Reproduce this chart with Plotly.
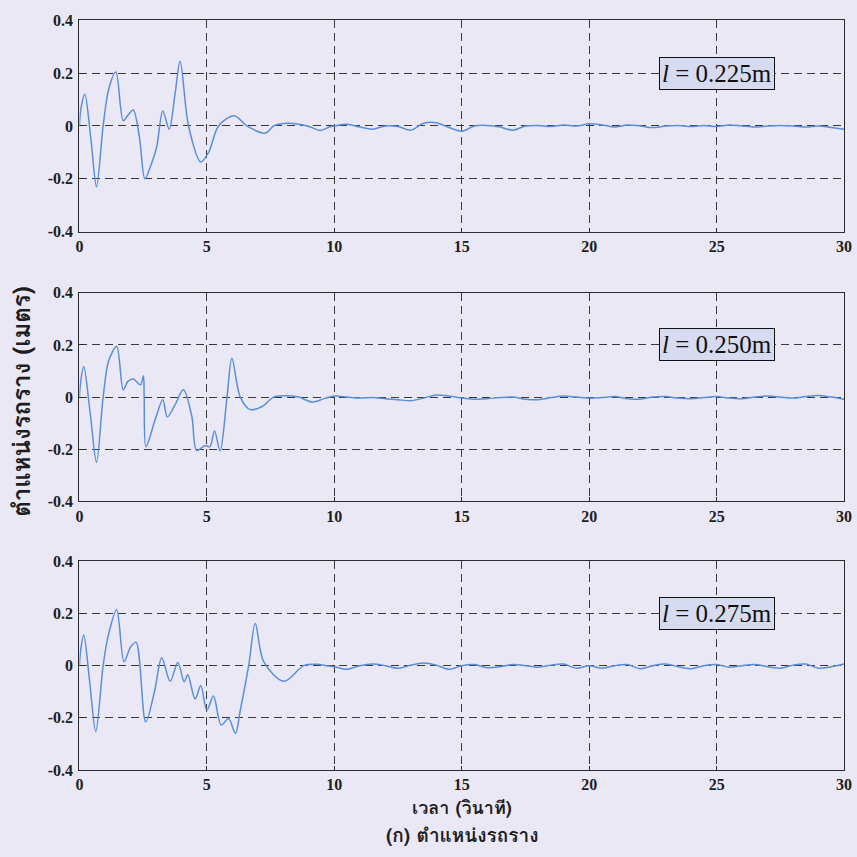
import plotly.graph_objects as go

# Pendulum lengths for the three runs
lengths = ["0.225", "0.250", "0.275"]

# Transient part (0-10 s): time [s] and cart position [m] at turning points
t_a = [0.0, 0.05, 0.21, 0.45, 0.67, 0.93, 1.15, 1.43, 1.72, 1.9, 2.11, 2.35, 2.57, 2.8, 3.03, 3.27, 3.52, 3.75, 3.95,
       4.28, 4.76, 5.07, 5.46, 6.08, 6.57, 7.3, 7.62, 8.2, 8.94, 9.46, 9.8]
y_a = [0.0, 0.06, 0.12, -0.05, -0.23, 0.0, 0.14, 0.204, 0.02, 0.04, 0.06, -0.04, -0.2, -0.15, -0.08, 0.057, -0.012, 0.12, 0.245,
       0.0, -0.136, -0.1, 0.0, 0.039, 0.0, -0.027, 0.0, 0.01, 0.0, -0.017, -0.004]

t_b = [0.0, 0.05, 0.17, 0.42, 0.67, 0.93, 1.15, 1.46, 1.72, 1.9, 2.11, 2.4, 2.51, 2.54, 2.61, 2.97, 3.27, 3.45, 3.75, 4.08,
       4.41, 4.6, 4.93, 5.12, 5.3, 5.52, 5.79, 5.98, 6.31, 6.7, 7.17, 7.62, 8.0, 8.6, 9.13, 9.6]
y_b = [0.0, 0.06, 0.117, -0.06, -0.25, 0.0, 0.14, 0.194, 0.028, 0.06, 0.069, 0.047, 0.082, 0.0, -0.19, -0.087, -0.01, -0.076, -0.03, 0.028,
       -0.074, -0.205, -0.186, -0.19, -0.13, -0.206, 0.0, 0.149, 0.0, -0.048, -0.036, 0.0, 0.005, 0.0, -0.019, -0.006]

t_c = [0.0, 0.05, 0.17, 0.4, 0.64, 0.93, 1.13, 1.46, 1.75, 2.0, 2.22, 2.6, 2.95, 3.23, 3.56, 3.86, 4.11, 4.25, 4.54, 4.76,
       5.0, 5.26, 5.56, 5.85, 6.12, 6.31, 6.64, 6.9, 7.23, 8.02, 8.8, 9.33, 9.7]
y_c = [0.0, 0.06, 0.117, -0.06, -0.253, 0.0, 0.115, 0.214, 0.015, 0.07, 0.09, -0.216, -0.097, 0.03, -0.06, 0.012, -0.062, -0.035, -0.128, -0.076,
       -0.172, -0.116, -0.228, -0.203, -0.26, -0.172, 0.0, 0.162, 0.015, -0.06, 0.0, 0.005, 0.0]

# Residual motion (10-30 s, every 0.5 s)
t_tail = [10 + 0.5 * k for k in range(41)]
tail_a = [0.0, 0.006, -0.004, -0.012, 0.0, -0.002, -0.016, 0.01, 0.012, -0.006, -0.02, 0.0, 0.002, -0.004, -0.016, 0.0,
          0.002, -0.002, 0.004, 0.0, 0.008, 0.004, -0.004, 0.004, 0.0, -0.006, 0.0, 0.002, -0.002, 0.002, -0.002, 0.004,
          0.0, -0.004, 0.0, 0.002, 0.0, -0.004, 0.0, -0.006, -0.012]
tail_b = [0.004, 0.0, -0.004, -0.002, -0.006, -0.01, -0.014, -0.004, 0.008, 0.004, -0.004, -0.008, -0.006, -0.002, 0.0,
          -0.008, -0.01, -0.002, 0.004, 0.0, -0.004, -0.002, 0.002, -0.006, -0.008, 0.0, 0.002, -0.004, -0.006, -0.002,
          0.002, -0.004, -0.006, 0.0, 0.004, 0.0, -0.004, 0.002, 0.006, 0.0, -0.008]
tail_c = [-0.004, -0.014, 0.0, 0.006, 0.0, -0.01, 0.002, 0.01, 0.002, -0.014, 0.0, 0.004, -0.008, -0.004, 0.004, 0.0,
          -0.006, 0.002, 0.006, -0.01, 0.0, -0.01, 0.0, 0.004, -0.012, 0.0, 0.006, -0.004, -0.012, 0.0, 0.004, -0.006,
          0.0, 0.004, -0.004, -0.01, 0.002, 0.006, -0.01, -0.004, 0.006]

series = [(t_a + t_tail, y_a + tail_a), (t_b + t_tail, y_b + tail_b), (t_c + t_tail, y_c + tail_c)]

x_ticks = [0, 5, 10, 15, 20, 25, 30]
y_ticks = [-0.4, -0.2, 0, 0.2, 0.4]
y_ticktext = ["-0.4", "-0.2", "0", "0.2", "0.4"]

W = H = 857
BG = "#EBE8F6"
INK = "#2a2a2a"
LINE = "#5A8ED8"
SERIF = "Liberation Serif, Times New Roman, serif"
THAI = "Loma, Garuda, Norasi, Tlwg Typo, DejaVu Sans, sans-serif"

# pixel boxes of the three panels in layout px (left, right / top, bottom)
x_left, x_right = 76.5, 852.0
panels = [(12.4, 228.3), (290.5, 503.4), (564.5, 777.4)]

fig = go.Figure()
for i, ((tt, yy), (top, bot)) in enumerate(zip(series, panels)):
    n = "" if i == 0 else str(i + 1)
    fig.add_trace(go.Scatter(
        x=tt, y=yy, mode="lines", xaxis="x" + n, yaxis="y" + n,
        line=dict(color=LINE, width=1.5, shape="spline", smoothing=0.9),
        showlegend=False, hoverinfo="skip"))
    axis_common = dict(
        showline=True, mirror=True, linecolor=INK, linewidth=1.4,
        showgrid=True, gridcolor="#383838", gridwidth=1.2, griddash="8px,5px",
        zeroline=False, ticks="inside", ticklen=4, tickcolor=INK,
        tickfont=dict(family=SERIF, size=16, color="#1e1e1e", weight="bold"))
    fig.layout["xaxis" + n] = dict(
        axis_common, domain=[x_left / W, x_right / W], anchor="y" + n,
        range=[0, 30], tickvals=x_ticks, ticklabelstandoff=0,
        ticklabeloverflow="allow")
    fig.layout["yaxis" + n] = dict(
        axis_common, domain=[1 - bot / H, 1 - top / H], anchor="x" + n,
        range=[-0.4, 0.4], tickvals=y_ticks, ticktext=y_ticktext, ticklabelstandoff=2)
    fig.add_annotation(
        xref="x" + n, yref="y" + n, x=25, y=0.2,
        text="<i>l</i> = " + lengths[i] + "m", showarrow=False,
        font=dict(family=SERIF, size=25, color="#111"),
        bgcolor="#D7DBF0", bordercolor="#111", borderwidth=1, borderpad=2)

# axis titles
fig.add_annotation(xref="paper", yref="paper", x=17 / W, y=1 - 401 / H,
                   xanchor="center", yanchor="middle",
                   text="ตำแหน่งรถราง (เมตร)", textangle=-90, showarrow=False,
                   font=dict(family=THAI, size=24, color="#1e1e1e", weight="bold"))
fig.add_annotation(xref="paper", yref="paper", x=464 / W, y=1 - 816 / H,
                   xanchor="center", yanchor="middle",
                   text="เวลา (วินาที)", showarrow=False,
                   font=dict(family=THAI, size=18, color="#1e1e1e", weight="bold"))
fig.add_annotation(xref="paper", yref="paper", x=464 / W, y=1 - 844 / H,
                   xanchor="center", yanchor="middle",
                   text="(ก) ตำแหน่งรถราง", showarrow=False,
                   font=dict(family=THAI, size=19, color="#1e1e1e", weight="bold"))

fig.update_layout(width=W, height=H, margin=dict(l=0, r=0, t=0, b=0),
                  paper_bgcolor=BG, plot_bgcolor=BG)
fig.write_html("out.html")
